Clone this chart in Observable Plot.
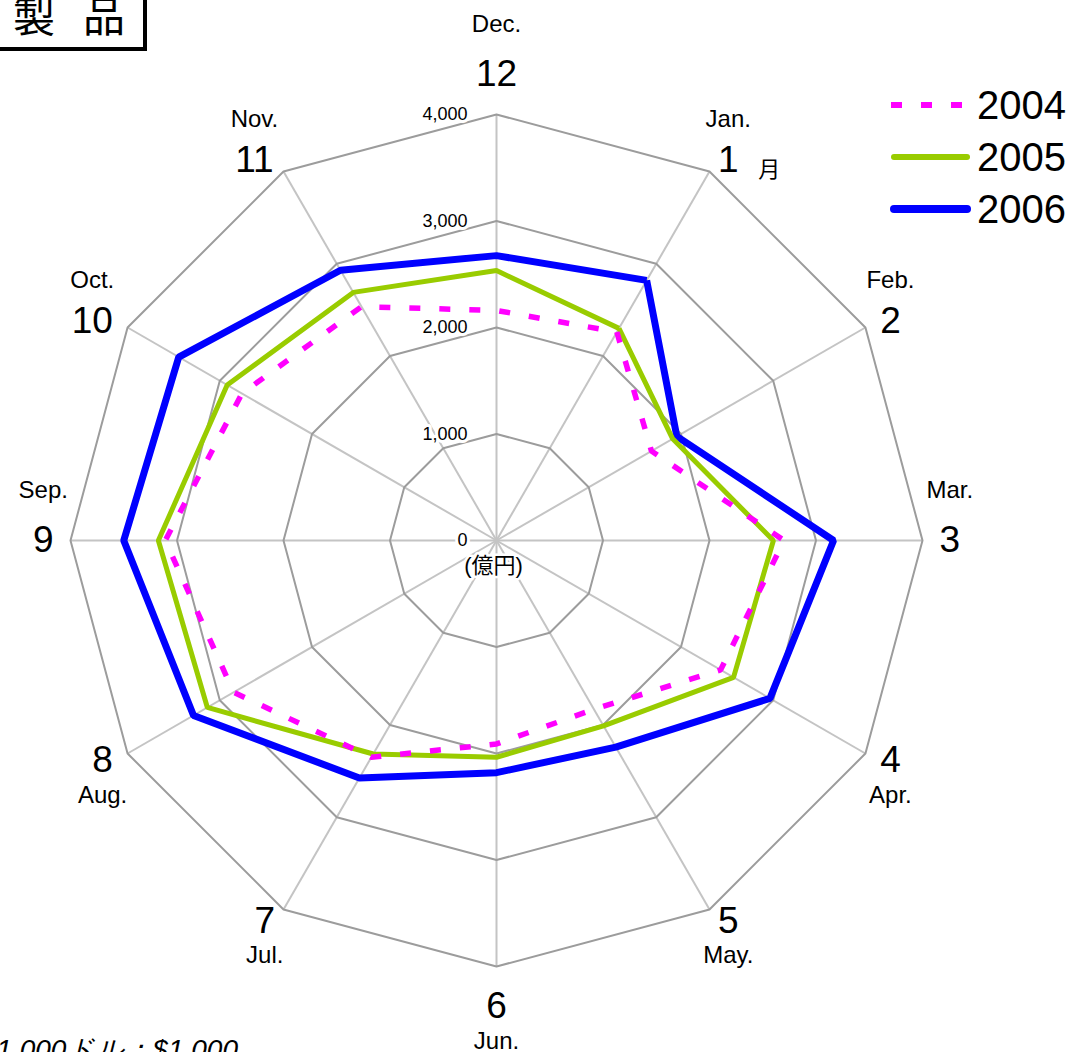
<!DOCTYPE html>
<html>
<head>
<meta charset="utf-8">
<script src="https://cdn.jsdelivr.net/npm/d3@7"></script>
<script src="https://cdn.jsdelivr.net/npm/@observablehq/plot@0.6"></script>
<style>
  html, body { margin: 0; padding: 0; background: #fff; }
  #wrap { position: relative; width: 1068px; height: 1052px; overflow: hidden; font-family: "Liberation Sans", Arial, sans-serif; }
  #chart { position: absolute; left: 0; top: 0; }
  #titlebox { position: absolute; left: -10px; top: -10px; width: 157px; height: 61px; box-sizing: border-box; border: 4px solid #000; background: #fff; }
  #titletext { position: absolute; left: 13px; top: -7px; font-family: "Noto Sans CJK JP", sans-serif; font-size: 42px; line-height: 42px; white-space: nowrap; color: #000; }
  #titletext span + span { margin-left: 28px; }
  #legend { position: absolute; left: 880px; top: 80px; }
  .legrow { position: absolute; left: 0; height: 40px; width: 190px; }
  .legrow svg { position: absolute; left: 0; top: 0; }
  .legrow span { position: absolute; left: 97px; top: 0; font-size: 40px; line-height: 40px; color: #000; }
  #caption { position: absolute; right: 830px; top: 1036px; font-size: 28px; line-height: 28px; font-style: italic; white-space: nowrap; color: #000; }
</style>
</head>
<body>
<div id="wrap">
  <div id="chart"></div>
  <div id="titlebox"></div>
  <div id="titletext"><span>製</span><span>品</span></div>
  <div id="legend"></div>
  <div id="caption">1,000ドル；$1,000</div>
</div>
<script>
// ---- data ----
const monthNumbers = ["1","2","3","4","5","6","7","8","9","10","11","12"];
const monthNames = ["Jan.","Feb.","Mar.","Apr.","May.","Jun.","Jul.","Aug.","Sep.","Oct.","Nov.","Dec."];
const seriesNames = ["2004","2005","2006"];
const values2004 = [2260, 1680, 2700, 2430, 1830, 1910, 2350, 2850, 3110, 2760, 2535, 2160];
const values2005 = [2300, 1910, 2600, 2570, 2010, 2035, 2315, 3135, 3175, 2920, 2690, 2535];
const values2006 = [2820, 1955, 3165, 2965, 2240, 2180, 2575, 3285, 3500, 3445, 2930, 2675];
const ringValues = [1000, 2000, 3000, 4000];
const tickValues = [0, 1000, 2000, 3000, 4000];
const tickLabels = ["0", "1,000", "2,000", "3,000", "4,000"];
const unitLabel = "(億円)";
const monthSuffix = "月";

// ---- geometry helpers (polar -> cartesian in data units) ----
const RMAX = 4000;
const W = 1068, H = 1052, ML = 70, MR = 146, MT = 114, MB = 86;
const K = (W - ML - MR) / (2 * RMAX); // px per data unit
const ang = i => (i + 1) * 30 * Math.PI / 180; // month index 0 = Jan, clockwise from top
const px = (r, i) => r * Math.sin(ang(i));
const py = (r, i) => r * Math.cos(ang(i));

const seriesValues = [values2004, values2005, values2006];
const seriesStyle = {
  "2004": {stroke: "#ff00ff", strokeWidth: 5.5, dash: "11,19"},
  "2005": {stroke: "#99cc00", strokeWidth: 5, dash: null},
  "2006": {stroke: "#0000ff", strokeWidth: 7, dash: null}
};

function closed(vals, name) {
  const rows = vals.map((v, i) => ({name, i, v}));
  rows.push({name, i: 0, v: vals[0]});
  return rows;
}

const ringRows = ringValues.flatMap(rv => d3.range(13).map(k => ({ring: rv, i: k % 12, v: rv})));
const monthIdx = d3.range(12);

// ---- month label layout ----
const NUM_FS = 37, ENG_FS = 24;
const below = i => i >= 3 && i <= 7;
const isVert = i => Math.abs(Math.cos(ang(i))) > 0.99;
const isHorz = i => Math.abs(Math.sin(ang(i))) > 0.99;
const side = i => { const s = Math.sin(ang(i)); return Math.abs(s) < 0.01 ? 0 : Math.sign(s); };
const numHalfW = i => monthNumbers[i].length * 0.556 * NUM_FS / 2;
const numX = i => px(443 / K, i) + side(i) * numHalfW(i) / K;
const numY = i => py((isVert(i) ? 466 : 439) / K, i);
const engOff = i => below(i) ? -35 : ((isVert(i) || isHorz(i)) ? 50 : 41); // px, upward positive
const engY = i => numY(i) + engOff(i) / K;

const seriesMarks = [2, 1, 0].map(k => {
  const name = seriesNames[k];
  const st = seriesStyle[name];
  const opts = {
    x: d => px(d.v, d.i), y: d => py(d.v, d.i),
    stroke: st.stroke, strokeWidth: st.strokeWidth,
    strokeLinejoin: "miter", strokeLinecap: "butt"
  };
  if (st.dash) opts.strokeDasharray = st.dash;
  return Plot.line(closed(seriesValues[k], name), opts);
});

const chart = Plot.plot({
  width: W, height: H,
  marginLeft: ML, marginRight: MR, marginTop: MT, marginBottom: MB,
  x: {domain: [-RMAX, RMAX], axis: null},
  y: {domain: [-RMAX, RMAX], axis: null},
  style: {fontFamily: "'Liberation Sans', Arial, sans-serif", background: "transparent", overflow: "visible"},
  marks: [
    // spokes
    Plot.link(monthIdx, {x1: () => 0, y1: () => 0, x2: i => px(RMAX, i), y2: i => py(RMAX, i), stroke: "#c4c4c4", strokeWidth: 2}),
    // rings
    Plot.line(ringRows, {x: d => px(d.v, d.i), y: d => py(d.v, d.i), z: "ring", stroke: "#9c9c9c", strokeWidth: 2, strokeLinejoin: "miter"}),
    // tick labels
    Plot.text(tickValues, {x: () => 0, y: d => d, text: (d, j) => tickLabels[j], textAnchor: "end", dx: -29, fontSize: 18, fill: "#000", stroke: "#fff", strokeWidth: 6, paintOrder: "stroke"}),
    Plot.text([unitLabel], {x: () => 0, y: () => 0, text: d => d, dx: -3, dy: 25, fontSize: 22, fontFamily: "'Liberation Sans', 'Noto Sans CJK JP', sans-serif", fill: "#000", stroke: "#fff", strokeWidth: 5, paintOrder: "stroke"}),
    // series
    ...seriesMarks,
    // month numbers and English names
    Plot.text(monthIdx, {x: numX, y: numY, text: i => monthNumbers[i], fontSize: NUM_FS, fill: "#000"}),
    Plot.text(monthIdx, {x: numX, y: engY, text: i => monthNames[i], fontSize: ENG_FS, fill: "#000"}),
    Plot.text([0], {x: i => numX(i) + 41 / K, y: i => numY(i) - 10 / K, text: () => monthSuffix, fontSize: 22, fontFamily: "'Noto Sans CJK JP', sans-serif", fill: "#000"})
  ]
});
// make sure halo paints beneath fill
d3.select(chart).selectAll("text").attr("paint-order", "stroke");
document.getElementById("chart").appendChild(chart);

// ---- legend ----
const legend = d3.select("#legend");
const legTops = [5, 57, 109];
[0, 1, 2].forEach(k => {
  const name = seriesNames[k];
  const st = seriesStyle[name];
  const row = legend.append("div").attr("class", "legrow").style("top", legTops[k] + "px");
  const svg = row.append("svg").attr("width", 95).attr("height", 40);
  const ln = svg.append("line").attr("x1", k === 0 ? 11 : 14).attr("x2", k === 0 ? 84 : 87).attr("y1", 20).attr("y2", 20)
    .attr("stroke", st.stroke).attr("stroke-width", k === 0 ? 6 : st.strokeWidth + 1)
    .attr("stroke-linecap", k === 0 ? "butt" : "round");
  if (st.dash) ln.attr("stroke-dasharray", st.dash);
  row.append("span").text(name);
});
</script>
</body>
</html>
